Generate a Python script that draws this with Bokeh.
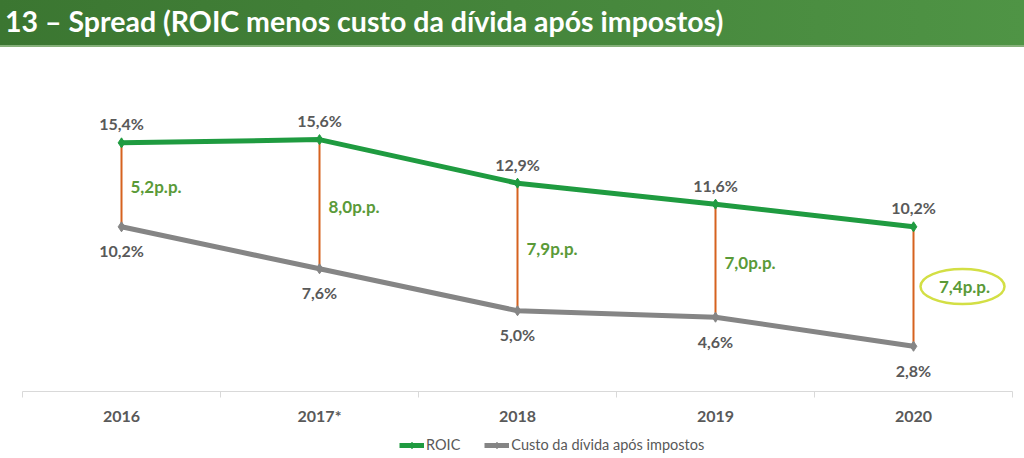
from bokeh.plotting import figure
from bokeh.models import Range1d, FixedTicker, Legend, LegendItem, Div, ColumnDataSource
from bokeh.layouts import column
from bokeh.embed import file_html
from bokeh.resources import INLINE
from bokeh.core.properties import value

title = "13 – Spread (ROIC menos custo da dívida após impostos)"
years = ["2016", "2017*", "2018", "2019", "2020"]
roic = [15.4, 15.6, 12.9, 11.6, 10.2]
custo = [10.2, 7.6, 5.0, 4.6, 2.8]
roic_labels = ["15,4%", "15,6%", "12,9%", "11,6%", "10,2%"]
custo_labels = ["10,2%", "7,6%", "5,0%", "4,6%", "2,8%"]
spread_labels = ["5,2p.p.", "8,0p.p.", "7,9p.p.", "7,0p.p.", "7,4p.p."]
series_names = ["ROIC", "Custo da dívida após impostos"]

GREEN = "#1f9b40"
GRAY = "#858585"
ORANGE = "#d6621f"
TXT = "#595959"
SPREAD = "#5a9a38"
FONT = "Lato"

x = [i + 0.5 for i in range(len(years))]
mid = [(a + b) / 2 for a, b in zip(roic, custo)]
src = ColumnDataSource(dict(x=x, roic=roic, custo=custo, mid=mid,
                            rl=roic_labels, cl=custo_labels, sl=spread_labels))

W = 1024
BL, BR = 22, 12
PX_PER_X = (W - BL - BR) / len(years)

p = figure(width=W, height=381, x_range=Range1d(0, len(years)), y_range=Range1d(0, 19.88),
           output_backend="svg", toolbar_location=None, y_axis_location=None,
           min_border_left=BL, min_border_right=BR, min_border_top=23, min_border_bottom=37)
p.margin = (0, 0, 0, 0)
p.outline_line_color = None
p.xgrid.visible = False
p.ygrid.visible = False
p.background_fill_color = "white"
p.border_fill_color = "white"

ax = p.xaxis[0]
ax.ticker = FixedTicker(ticks=x, minor_ticks=list(range(len(years) + 1)))
ax.major_label_overrides = {xi: y for xi, y in zip(x, years)}
ax.major_tick_line_color = None
ax.major_tick_out = 0
ax.major_tick_in = 0
ax.minor_tick_line_color = "#d9d9d9"
ax.minor_tick_out = 6
ax.minor_tick_in = 0
ax.axis_line_color = "#d9d9d9"
ax.major_label_standoff = 8
ax.major_label_text_font = FONT
ax.major_label_text_font_style = "bold"
ax.major_label_text_font_size = "16px"
ax.major_label_text_color = TXT

# series lines
p.line("x", "roic", source=src, line_color=GREEN, line_width=5)
p.line("x", "custo", source=src, line_color=GRAY, line_width=5)
# spread segments
p.segment(x0="x", y0="roic", x1="x", y1="custo", source=src, line_color=ORANGE, line_width=2)
p.scatter("x", "roic", source=src, marker="diamond", size=10, color=GREEN)
p.scatter("x", "custo", source=src, marker="diamond", size=10, color=GRAY)

# value labels
p.text("x", "roic", text="rl", source=src, text_align="center", text_baseline="middle",
       y_offset=-19, text_font=value(FONT), text_font_style="bold",
       text_font_size="16px", text_color=TXT)
p.text("x", "custo", text="cl", source=src, text_align="center", text_baseline="middle",
       y_offset=24, text_font=value(FONT), text_font_style="bold",
       text_font_size="16px", text_color=TXT)

# spread labels
n = len(years)
first = ColumnDataSource(dict(x=x[:n - 1], mid=mid[:n - 1], sl=spread_labels[:n - 1]))
p.text("x", "mid", text="sl", source=first, text_align="left", text_baseline="middle",
       x_offset=9, y_offset=2, text_font=value(FONT), text_font_style="bold",
       text_font_size="17px", text_color=SPREAD)
last = ColumnDataSource(dict(x=[x[-1]], mid=[mid[-1]], sl=[spread_labels[-1]],
                             ex=[x[-1] + 49 / PX_PER_X]))
p.ellipse(x="ex", y="mid", source=last, width=84, height=35, width_units="screen",
          height_units="screen", fill_color=None, line_color="#d3df45", line_width=2.5)
p.text("x", "mid", text="sl", source=last, text_align="center", text_baseline="middle",
       x_offset=51, text_font=value(FONT), text_font_style="bold",
       text_font_size="17px", text_color=SPREAD)

# legend strip (own small figure so the legend sits below the axis)
lg = figure(width=W, height=30, x_range=Range1d(0, 1), y_range=Range1d(0, 1),
            output_backend="svg", toolbar_location=None, x_axis_location=None,
            y_axis_location=None, min_border=0)
lg.margin = (0, 0, 0, 0)
lg.outline_line_color = None
lg.xgrid.visible = False
lg.ygrid.visible = False
# off-screen placeholders: only their styles are used, for the legend swatches
dummy = ColumnDataSource(dict(x=[-10, -9], y=[-10, -10]))
lr1 = lg.line("x", "y", source=dummy, line_color=GREEN, line_width=5)
lm1 = lg.scatter("x", "y", source=dummy, marker="diamond", size=9, color=GREEN)
lr2 = lg.line("x", "y", source=dummy, line_color=GRAY, line_width=5)
lm2 = lg.scatter("x", "y", source=dummy, marker="diamond", size=9, color=GRAY)
legend = Legend(items=[LegendItem(label=series_names[0], renderers=[lr1, lm1], index=0),
                       LegendItem(label=series_names[1], renderers=[lr2, lm2], index=0)],
                orientation="horizontal", location=(377, 5), glyph_width=25, glyph_height=16,
                label_height=16, label_width=20,
                label_text_font=FONT, label_text_font_size="14.5px", label_text_color=TXT,
                label_standoff=2, spacing=24, padding=1, margin=0,
                border_line_color=None, background_fill_alpha=0)
lg.add_layout(legend, "center")

header = Div(text=title, width=W, height=47, margin=(0, 0, 0, 0),
             styles={"background": "linear-gradient(to right, #3b7631, #4f9445)",
                     "color": "white", "font-family": "Lato", "font-weight": "bold",
                     "font-size": "28.5px", "line-height": "42px", "padding-left": "5px",
                     "box-sizing": "border-box",
                     "box-shadow": "inset 0 -2px 0 #86b07a", "white-space": "nowrap",
                     "overflow": "hidden"})

layout = column(header, p, lg, spacing=0)
open("out.html", "w").write(file_html(layout, INLINE))
